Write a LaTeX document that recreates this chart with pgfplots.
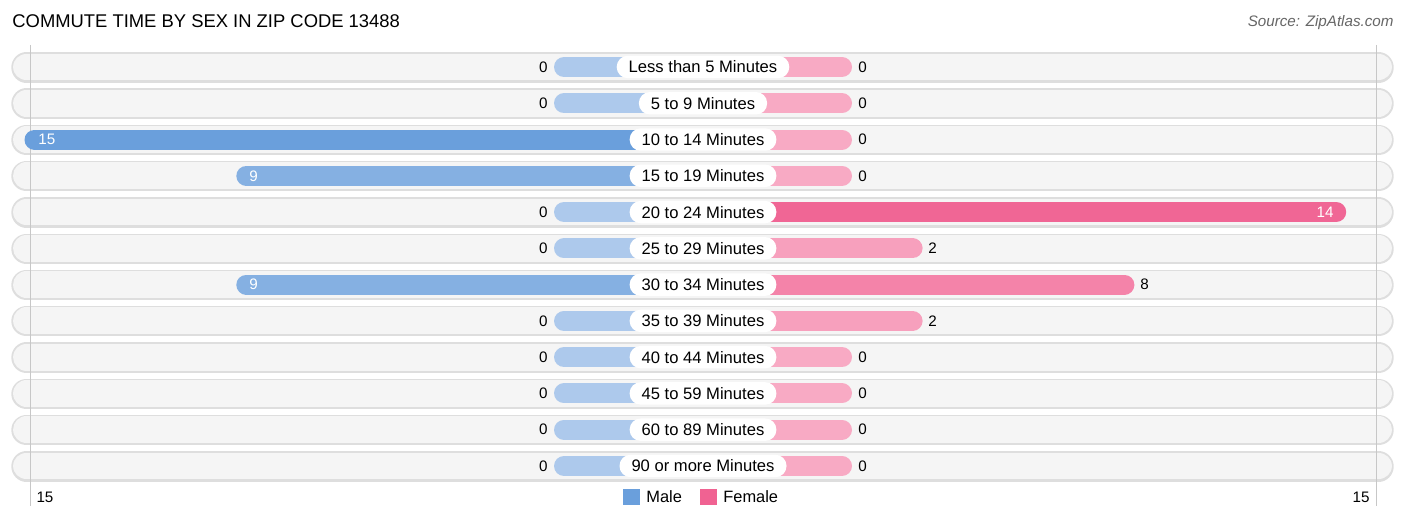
\documentclass[border=0pt]{standalone}
\usepackage{pgfplots}
\pgfplotsset{compat=1.18}
\usepackage{pgfplotstable}
\usepackage{fontspec}
\setmainfont{Liberation Sans}
\definecolor{rowfill}{RGB}{245,245,245}
\definecolor{rowedge}{RGB}{222,222,222}
\definecolor{maleC}{RGB}{106,159,220}
\definecolor{femaleC}{RGB}{240,98,146}
\definecolor{txt}{RGB}{51,51,51}

% rows top to bottom
\pgfplotstableread{
row male female
0 0 0
1 0 0
2 15 0
3 9 0
4 0 14
5 0 2
6 9 8
7 0 2
8 0 0
9 0 0
10 0 0
11 0 0
}\commute

\newcommand{\ry}[1]{67+36.27*#1}

\begin{document}
\begin{tikzpicture}[font=\color{txt}]
\begin{axis}[
    scale only axis, width=703pt, height=261pt,
    xmin=0, xmax=1406, ymin=0, ymax=522, y dir=reverse,
    hide axis, clip=false,
]
\path (axis cs:0,0) rectangle (axis cs:1406,522);

% row backgrounds
\addplot[quiver={u=1352, v=0}, -, line cap=round, line width=15.2pt, draw=rowedge]
  table[x expr=26.5, y expr=67+36.27*\thisrow{row}+0.4] {\commute};
\addplot[quiver={u=1352, v=0}, -, line cap=round, line width=13.4pt, draw=rowfill]
  table[x expr=26.5, y expr=67+36.27*\thisrow{row}] {\commute};

% thin vertical guides
\addplot[draw=black!22, line width=0.5pt] coordinates {(30,45) (30,506)};
\addplot[draw=black!22, line width=0.5pt] coordinates {(1376,45) (1376,506)};

% male bars
\addplot[colormap={m}{rgb255=(173,201,236) rgb255=(106,159,220)},
  point meta min=0, point meta max=15, point meta=\thisrow{male},
  quiver={u=136+35.3*\thisrow{male}, v=0,
    every arrow/.append style={draw=mapped color}},
  -, line cap=round, line width=10pt]
  table[x expr=564-35.3*\thisrow{male}, y expr=67+36.27*\thisrow{row}] {\commute};
% female bars
\addplot[colormap={f}{rgb255=(248,170,196) rgb255=(240,98,146)},
  point meta min=0, point meta max=14, point meta=\thisrow{female},
  quiver={u=136+35.3*\thisrow{female}, v=0,
    every arrow/.append style={draw=mapped color}},
  -, line cap=round, line width=10pt]
  table[x expr=706, y expr=67+36.27*\thisrow{row}] {\commute};

% category labels
\tikzset{cat/.style={fill=white, rounded corners=5.5pt, inner xsep=6pt, inner ysep=0pt,
  minimum height=11.2pt, font=\fontsize{8.3}{9}\selectfont},
  val/.style={font=\fontsize{7.6}{9}\selectfont, inner sep=0pt},
  vin/.style={val, text=white}}
\node[cat] at (axis cs:703,{\ry{0}}) {Less than 5 Minutes};
\node[cat] at (axis cs:703,{\ry{1}}) {5 to 9 Minutes};
\node[cat] at (axis cs:703,{\ry{2}}) {10 to 14 Minutes};
\node[cat] at (axis cs:703,{\ry{3}}) {15 to 19 Minutes};
\node[cat] at (axis cs:703,{\ry{4}}) {20 to 24 Minutes};
\node[cat] at (axis cs:703,{\ry{5}}) {25 to 29 Minutes};
\node[cat] at (axis cs:703,{\ry{6}}) {30 to 34 Minutes};
\node[cat] at (axis cs:703,{\ry{7}}) {35 to 39 Minutes};
\node[cat] at (axis cs:703,{\ry{8}}) {40 to 44 Minutes};
\node[cat] at (axis cs:703,{\ry{9}}) {45 to 59 Minutes};
\node[cat] at (axis cs:703,{\ry{10}}) {60 to 89 Minutes};
\node[cat] at (axis cs:703,{\ry{11}}) {90 or more Minutes};

% male values
\node[val, anchor=east] at (axis cs:548,{\ry{0}}) {0};
\node[val, anchor=east] at (axis cs:548,{\ry{1}}) {0};
\node[vin, anchor=west] at (axis cs:38,{\ry{2}}) {15};
\node[vin, anchor=west] at (axis cs:249,{\ry{3}}) {9};
\node[val, anchor=east] at (axis cs:548,{\ry{4}}) {0};
\node[val, anchor=east] at (axis cs:548,{\ry{5}}) {0};
\node[vin, anchor=west] at (axis cs:249,{\ry{6}}) {9};
\node[val, anchor=east] at (axis cs:548,{\ry{7}}) {0};
\node[val, anchor=east] at (axis cs:548,{\ry{8}}) {0};
\node[val, anchor=east] at (axis cs:548,{\ry{9}}) {0};
\node[val, anchor=east] at (axis cs:548,{\ry{10}}) {0};
\node[val, anchor=east] at (axis cs:548,{\ry{11}}) {0};
% female values
\node[val, anchor=west] at (axis cs:858,{\ry{0}}) {0};
\node[val, anchor=west] at (axis cs:858,{\ry{1}}) {0};
\node[val, anchor=west] at (axis cs:858,{\ry{2}}) {0};
\node[val, anchor=west] at (axis cs:858,{\ry{3}}) {0};
\node[vin, anchor=east] at (axis cs:1334,{\ry{4}}) {14};
\node[val, anchor=west] at (axis cs:928,{\ry{5}}) {2};
\node[val, anchor=west] at (axis cs:1140,{\ry{6}}) {8};
\node[val, anchor=west] at (axis cs:928,{\ry{7}}) {2};
\node[val, anchor=west] at (axis cs:858,{\ry{8}}) {0};
\node[val, anchor=west] at (axis cs:858,{\ry{9}}) {0};
\node[val, anchor=west] at (axis cs:858,{\ry{10}}) {0};
\node[val, anchor=west] at (axis cs:858,{\ry{11}}) {0};

% axis ends
\node[val] at (axis cs:45,497) {15};
\node[val] at (axis cs:1361,497) {15};

% legend
\fill[maleC] (axis cs:623,489) rectangle (axis cs:640,505);
\node[anchor=west, inner sep=0pt, font=\fontsize{8.2}{9}\selectfont] at (axis cs:646,497) {Male};
\fill[femaleC] (axis cs:700,489) rectangle (axis cs:717,505);
\node[anchor=west, inner sep=0pt, font=\fontsize{8.2}{9}\selectfont] at (axis cs:723,497) {Female};

% title and source
\node[anchor=west, inner sep=0pt, font=\fontsize{9.2}{11}\selectfont] at (axis cs:12,21) {COMMUTE TIME BY SEX IN ZIP CODE 13488};
\node[anchor=east, inner sep=0pt, text=black!60, font=\fontsize{7.6}{9}\selectfont\itshape] at (axis cs:1394,23) {Source: ZipAtlas.com};
\end{axis}
\end{tikzpicture}
\end{document}
